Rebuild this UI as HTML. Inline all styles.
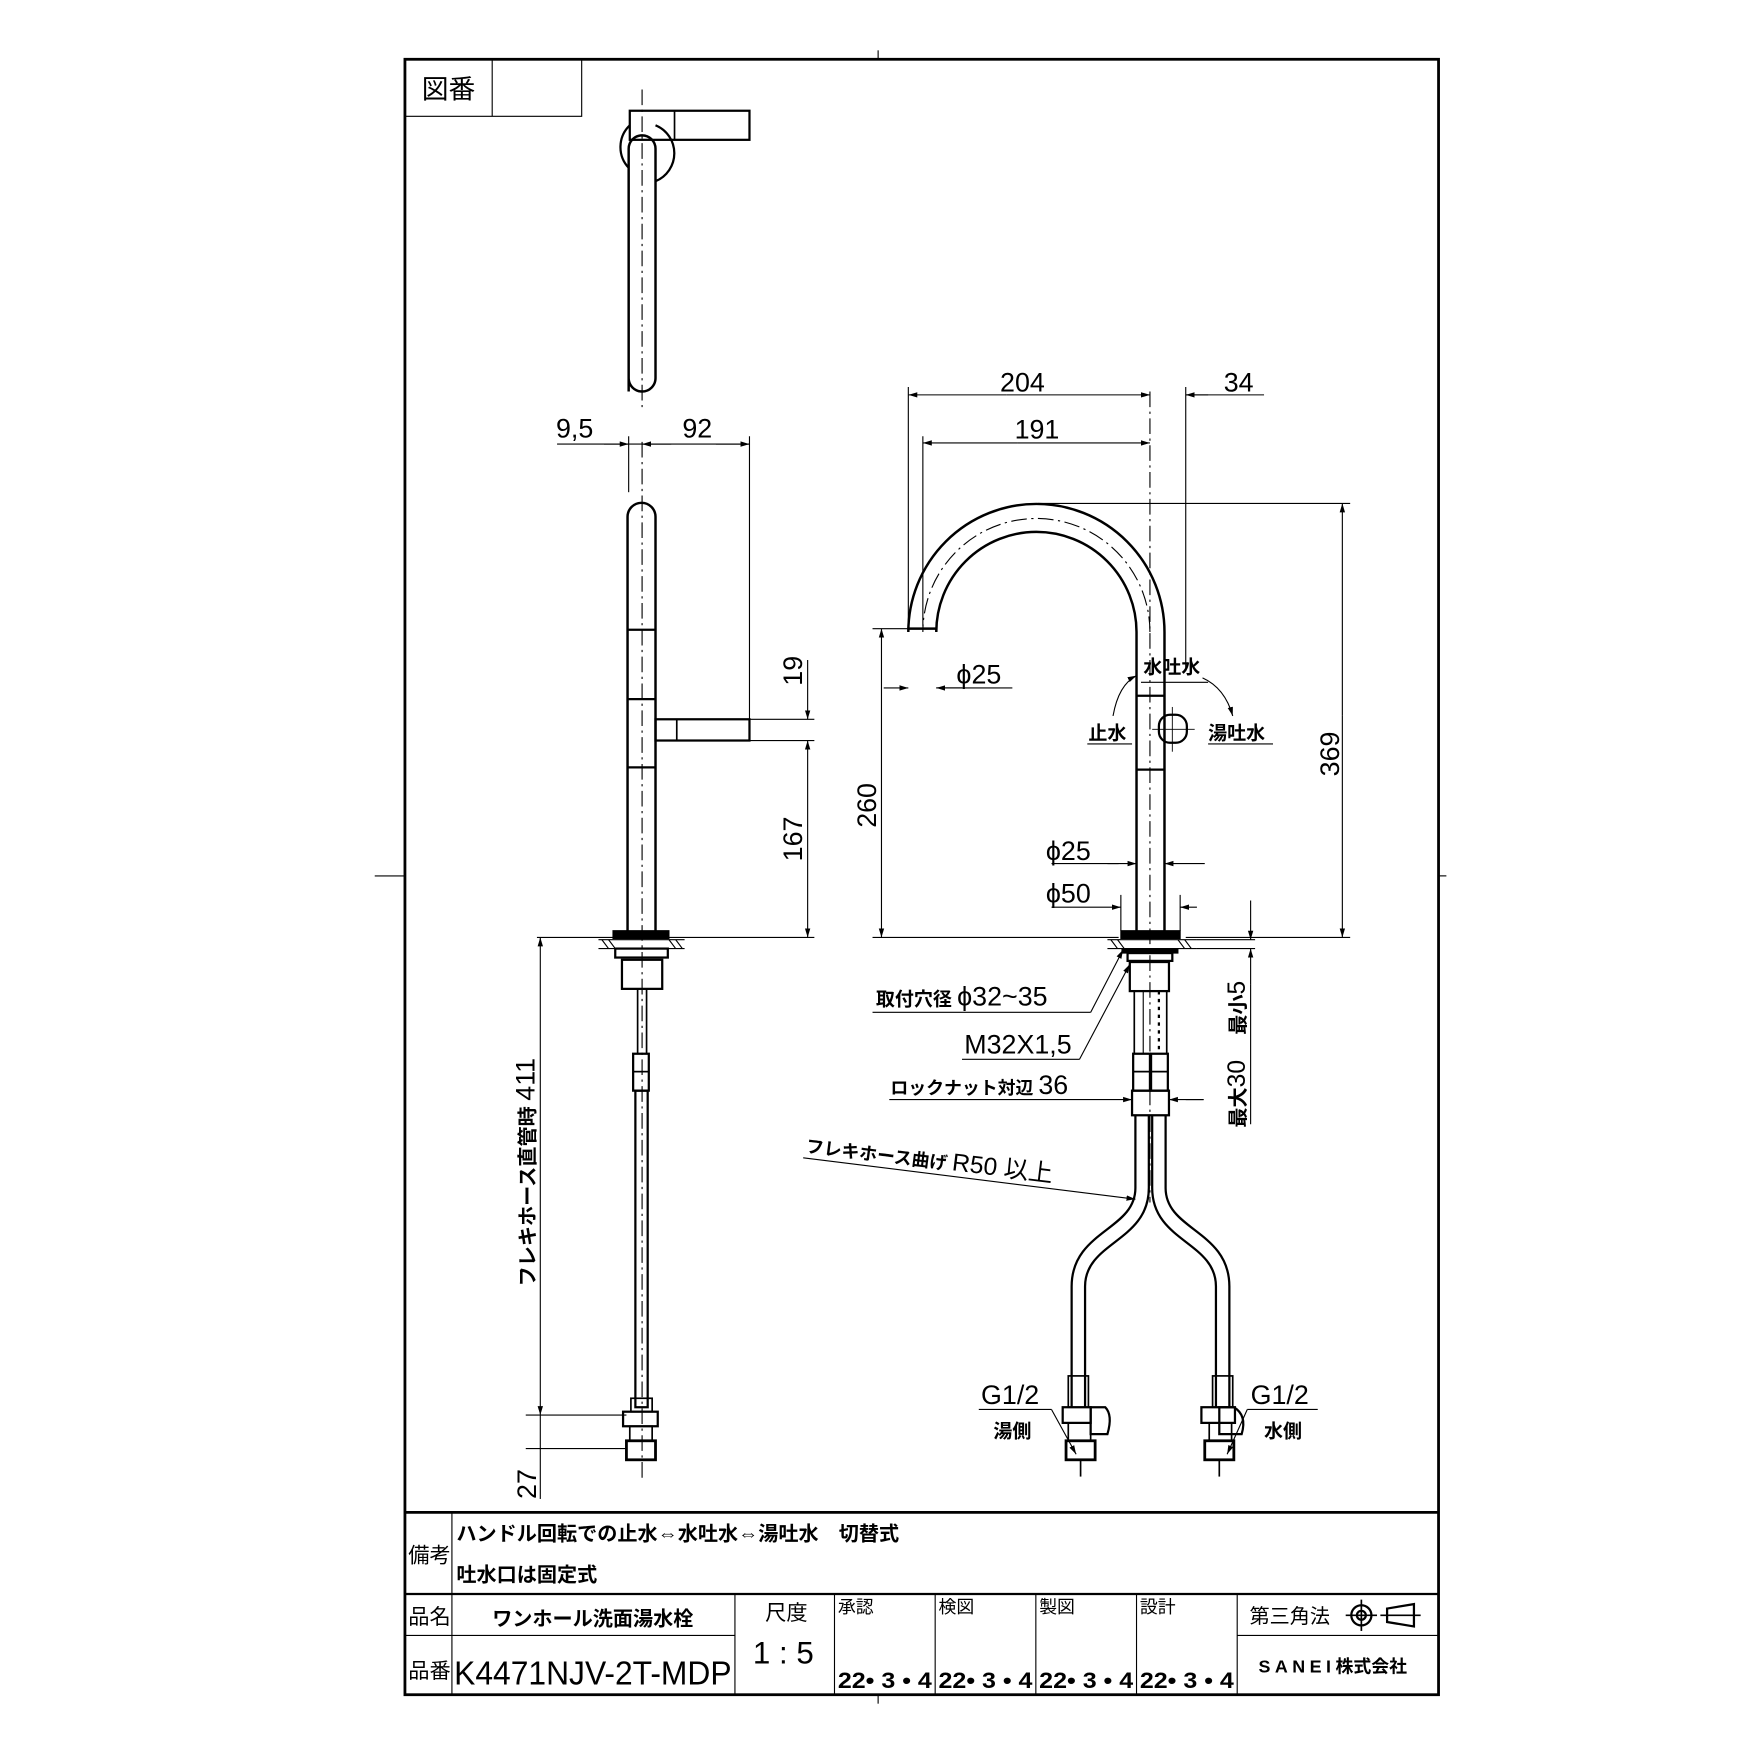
<!DOCTYPE html>
<html><head><meta charset="utf-8"><style>
html,body{margin:0;padding:0;background:#fff;}
svg{display:block;}
text{font-family:"Liberation Sans","Noto Sans CJK JP",sans-serif;fill:#000;}
.b{font-weight:bold;}
</style></head><body>
<svg width="1754" height="1754" viewBox="0 0 1568 1568" xmlns="http://www.w3.org/2000/svg">
<defs>
<marker id="a" viewBox="0 0 10 10" refX="10" refY="5" markerWidth="8" markerHeight="8" orient="auto-start-reverse"><path d="M0,2 L10,5 L0,8 z" fill="#000"/></marker>
</defs>
<g stroke="#000" fill="none">
<rect x="362" y="53" width="924" height="1462" stroke-width="2.5"/>
<line x1="785" y1="45" x2="785" y2="53" stroke-width="1"/>
<line x1="335" y1="783" x2="362" y2="783" stroke-width="1"/>
<line x1="1286" y1="783" x2="1293" y2="783" stroke-width="1"/>
<polyline points="362,104 520,104 520,53" stroke-width="1"/>
<line x1="440" y1="53" x2="440" y2="104" stroke-width="1"/>

<line x1="362" y1="1352" x2="1286" y2="1352" stroke-width="2.5"/>
<line x1="362" y1="1425" x2="1286" y2="1425" stroke-width="2"/>
<line x1="362" y1="1462" x2="657" y2="1462" stroke-width="1"/>
<line x1="1106" y1="1462" x2="1286" y2="1462" stroke-width="1"/>
<line x1="404" y1="1352" x2="404" y2="1515" stroke-width="1"/>
<line x1="657" y1="1425" x2="657" y2="1515" stroke-width="1"/>
<line x1="746" y1="1425" x2="746" y2="1515" stroke-width="1"/>
<line x1="836" y1="1425" x2="836" y2="1515" stroke-width="1"/>
<line x1="926" y1="1425" x2="926" y2="1515" stroke-width="1"/>
<line x1="1016" y1="1425" x2="1016" y2="1515" stroke-width="1"/>
<line x1="1106" y1="1425" x2="1106" y2="1515" stroke-width="1"/>
<line x1="785" y1="1515" x2="785" y2="1523" stroke-width="1"/>
<circle cx="1217" cy="1444" r="9" stroke-width="2"/><circle cx="1217" cy="1444" r="4" stroke-width="2"/>
<line x1="1203" y1="1444" x2="1231" y2="1444" stroke-width="1.5"/><line x1="1217" y1="1430" x2="1217" y2="1458" stroke-width="1.5"/>
<path d="M1240,1438 L1264,1434 L1264,1454 L1240,1450 Z" stroke-width="2"/>
<line x1="1234" y1="1444" x2="1270" y2="1444" stroke-width="1.5"/>

<rect x="563" y="99" width="107" height="26" stroke-width="2"/>
<line x1="603" y1="99" x2="603" y2="125" stroke-width="1.5"/>
<path d="M562,150 A27,27 0 0 1 563,112" stroke-width="2"/>
<path d="M586,112 A27,27 0 0 1 586,162" stroke-width="2"/>
<path d="M562,350 L562,133 A12,12 0 0 1 586,133 L586,338 A12,12 0 0 1 562,338" stroke-width="2.2"/>
<line x1="574" y1="80" x2="574" y2="365" stroke-width="1" stroke-dasharray="14,4,2,4"/>

<path d="M561,832 L561,462 A12.5,12.5 0 0 1 586,462 L586,832" stroke-width="2.2"/>
<line x1="574" y1="395" x2="574" y2="1325" stroke-width="1" stroke-dasharray="14,4,2,4"/>
<line x1="561" y1="563" x2="586" y2="563" stroke-width="2"/>
<line x1="561" y1="625" x2="586" y2="625" stroke-width="2"/>
<line x1="561" y1="686" x2="586" y2="686" stroke-width="2"/>
<rect x="586" y="643" width="84" height="19" stroke-width="2"/>
<line x1="605" y1="643" x2="605" y2="662" stroke-width="1.5"/>
<rect x="548" y="832" width="50" height="7" fill="#000" stroke-width="1"/>
<line x1="535" y1="840" x2="612" y2="840" stroke-width="1"/>
<line x1="535" y1="848" x2="612" y2="848" stroke-width="1"/>
<path d="M538,840 l6,8 M544,840 l6,8 M598,840 l6,8 M604,840 l6,8" stroke-width="1"/>
<rect x="550" y="848" width="47" height="8" stroke-width="2"/>
<rect x="556" y="858" width="36" height="26" stroke-width="2"/>
<line x1="570" y1="884" x2="570" y2="942" stroke-width="1.5"/><line x1="578" y1="884" x2="578" y2="942" stroke-width="1.5"/>
<rect x="566" y="942" width="14" height="33" stroke-width="2"/>
<line x1="566" y1="958" x2="580" y2="958" stroke-width="1.5"/>
<rect x="568" y="975" width="11" height="283" stroke-width="2"/>
<rect x="564" y="1250" width="19" height="12" stroke-width="1.5"/>
<rect x="557" y="1262" width="31" height="13" stroke-width="2"/>
<rect x="563" y="1275" width="20" height="13" stroke-width="1.5"/>
<rect x="560" y="1288" width="26" height="17" stroke-width="2.5"/>

<line x1="498" y1="397" x2="670" y2="397" stroke-width="1"/>
<line x1="540" y1="397" x2="562" y2="397" stroke-width="1" marker-end="url(#a)"/>
<line x1="600" y1="397" x2="574" y2="397" stroke-width="1" marker-end="url(#a)"/>
<line x1="640" y1="397" x2="670" y2="397" stroke-width="1" marker-end="url(#a)"/>
<line x1="562" y1="390" x2="562" y2="440" stroke-width="1"/>
<line x1="670" y1="390" x2="670" y2="643" stroke-width="1"/>
<line x1="670" y1="643" x2="728" y2="643" stroke-width="1"/>
<line x1="670" y1="662" x2="728" y2="662" stroke-width="1"/>
<line x1="480" y1="838" x2="728" y2="838" stroke-width="1"/>
<line x1="722" y1="590" x2="722" y2="643" stroke-width="1" marker-end="url(#a)"/>
<line x1="722" y1="700" x2="722" y2="662" stroke-width="1" marker-end="url(#a)"/>
<line x1="722" y1="700" x2="722" y2="838" stroke-width="1" marker-end="url(#a)"/>
<line x1="483" y1="1050" x2="483" y2="838" stroke-width="1" marker-end="url(#a)"/>
<line x1="483" y1="1050" x2="483" y2="1265" stroke-width="1" marker-end="url(#a)"/>
<line x1="483" y1="1265" x2="483" y2="1340" stroke-width="1"/>
<line x1="470" y1="1265" x2="560" y2="1265" stroke-width="1"/>
<line x1="470" y1="1295" x2="560" y2="1295" stroke-width="1"/>

<path d="M1041,832 L1041,565 A114.5,114.5 0 0 0 812,565 L812,562 L837,562 L837,565 A89.5,89.5 0 0 1 1016,565 L1016,832" stroke-width="2.2"/>
<path d="M1028,565 A101.5,101.5 0 0 0 825,565" stroke-width="1" stroke-dasharray="14,4,2,4"/>
<line x1="1028" y1="350" x2="1028" y2="1075" stroke-width="1" stroke-dasharray="14,4,2,4"/>
<line x1="1016" y1="622" x2="1041" y2="622" stroke-width="2"/>
<line x1="1016" y1="688" x2="1041" y2="688" stroke-width="2"/>
<rect x="1036" y="639" width="25" height="25" rx="10" stroke-width="2"/>
<line x1="1030" y1="652" x2="1068" y2="652" stroke-width="0.8"/><line x1="1048" y1="632" x2="1048" y2="672" stroke-width="0.8"/>
<path d="M995,640 Q1000,612 1016,604" stroke-width="1" marker-end="url(#a)"/>
<path d="M1075,606 Q1095,615 1102,640" stroke-width="1" marker-end="url(#a)"/>
<line x1="1020" y1="610" x2="1080" y2="610" stroke-width="1"/>
<line x1="972" y1="665" x2="1012" y2="665" stroke-width="1"/>
<line x1="1080" y1="665" x2="1138" y2="665" stroke-width="1"/>

<rect x="1002" y="832" width="53" height="7" fill="#000" stroke-width="1"/>
<line x1="990" y1="840" x2="1070" y2="840" stroke-width="1"/>
<line x1="990" y1="848" x2="1070" y2="848" stroke-width="1"/>
<path d="M993,840 l6,8 M999,840 l6,8 M1053,840 l6,8 M1059,840 l6,8" stroke-width="1"/>
<rect x="1003" y="848" width="50" height="4" fill="#000" stroke-width="1"/>
<rect x="1008" y="852" width="40" height="7" stroke-width="2"/>
<rect x="1010" y="860" width="35" height="26" stroke-width="2"/>
<line x1="1014" y1="886" x2="1014" y2="942" stroke-width="1.5"/><line x1="1043" y1="886" x2="1043" y2="942" stroke-width="1.5"/>
<line x1="1022" y1="886" x2="1022" y2="942" stroke-width="1"/><line x1="1036" y1="886" x2="1036" y2="942" stroke-width="2" stroke-dasharray="3,4"/>
<rect x="1013" y="942" width="15" height="33" stroke-width="2"/><rect x="1029" y="942" width="15" height="33" stroke-width="2"/>
<line x1="1013" y1="958" x2="1044" y2="958" stroke-width="1.5"/>
<rect x="1012" y="975" width="33" height="22" stroke-width="2"/>
<path d="M1015,997 L1015,1062 C1015,1100 958,1100 958,1150 L958,1258" stroke-width="2"/>
<path d="M1027,997 L1027,1062 C1027,1110 970,1110 970,1150 L970,1258" stroke-width="2"/>
<path d="M1030,997 L1030,1062 C1030,1110 1087,1110 1087,1150 L1087,1258" stroke-width="2"/>
<path d="M1042,997 L1042,1062 C1042,1100 1099,1100 1099,1150 L1099,1258" stroke-width="2"/>
<rect x="955" y="1230" width="18" height="28" stroke-width="1.5"/>
<rect x="950" y="1258" width="25" height="14" stroke-width="2"/>
<path d="M975,1258 L988,1258 Q995,1265 990,1282 L975,1282 Z" stroke-width="2"/>
<rect x="955" y="1272" width="20" height="16" stroke-width="1.5"/>
<rect x="953" y="1288" width="26" height="17" stroke-width="2.5"/>
<line x1="966" y1="1305" x2="966" y2="1320" stroke-width="1.5"/>
<rect x="1084" y="1230" width="18" height="28" stroke-width="1.5"/>
<rect x="1074" y="1258" width="30" height="14" stroke-width="2"/>
<path d="M1090,1258 L1103,1258 Q1115,1265 1110,1282 L1090,1282 Z" stroke-width="2"/>
<rect x="1081" y="1272" width="20" height="16" stroke-width="1.5"/>
<rect x="1077" y="1288" width="26" height="17" stroke-width="2.5"/>
<line x1="1090" y1="1305" x2="1090" y2="1320" stroke-width="1.5"/>

<line x1="812" y1="346" x2="812" y2="560" stroke-width="1"/>
<line x1="825" y1="390" x2="825" y2="560" stroke-width="1"/>
<line x1="1060" y1="346" x2="1060" y2="600" stroke-width="1"/>
<line x1="900" y1="353" x2="812" y2="353" stroke-width="1" marker-end="url(#a)"/>
<line x1="900" y1="353" x2="1028" y2="353" stroke-width="1" marker-end="url(#a)"/>
<line x1="1080" y1="353" x2="1060" y2="353" stroke-width="1" marker-end="url(#a)"/>
<line x1="1060" y1="353" x2="1130" y2="353" stroke-width="1"/>
<line x1="910" y1="396" x2="825" y2="396" stroke-width="1" marker-end="url(#a)"/>
<line x1="910" y1="396" x2="1028" y2="396" stroke-width="1" marker-end="url(#a)"/>
<line x1="928" y1="450" x2="1207" y2="450" stroke-width="1"/>
<line x1="1060" y1="838" x2="1207" y2="838" stroke-width="1"/>
<line x1="1200" y1="640" x2="1200" y2="450" stroke-width="1" marker-end="url(#a)"/>
<line x1="1200" y1="640" x2="1200" y2="838" stroke-width="1" marker-end="url(#a)"/>
<line x1="780" y1="562" x2="812" y2="562" stroke-width="1"/>
<line x1="780" y1="838" x2="1000" y2="838" stroke-width="1"/>
<line x1="788" y1="700" x2="788" y2="562" stroke-width="1" marker-end="url(#a)"/>
<line x1="788" y1="700" x2="788" y2="838" stroke-width="1" marker-end="url(#a)"/>
<line x1="790" y1="615" x2="812" y2="615" stroke-width="1" marker-end="url(#a)"/>
<line x1="860" y1="615" x2="837" y2="615" stroke-width="1" marker-end="url(#a)"/>
<line x1="837" y1="615" x2="905" y2="615" stroke-width="1"/>
<line x1="940" y1="772" x2="1000" y2="772" stroke-width="1"/>
<line x1="990" y1="772" x2="1016" y2="772" stroke-width="1" marker-end="url(#a)"/>
<line x1="1077" y1="772" x2="1041" y2="772" stroke-width="1" marker-end="url(#a)"/>
<line x1="940" y1="811" x2="1002" y2="811" stroke-width="1" marker-end="url(#a)"/>
<line x1="1070" y1="811" x2="1055" y2="811" stroke-width="1" marker-end="url(#a)"/>
<line x1="1002" y1="800" x2="1002" y2="832" stroke-width="1"/><line x1="1055" y1="800" x2="1055" y2="832" stroke-width="1"/>
<line x1="1070" y1="840" x2="1122" y2="840" stroke-width="1"/>
<line x1="1070" y1="848" x2="1122" y2="848" stroke-width="1"/>
<line x1="1118" y1="805" x2="1118" y2="840" stroke-width="1" marker-end="url(#a)"/>
<line x1="1118" y1="880" x2="1118" y2="848" stroke-width="1" marker-end="url(#a)"/>
<line x1="1118" y1="880" x2="1118" y2="1005" stroke-width="1"/>
<line x1="1060" y1="983" x2="1076" y2="983" stroke-width="1"/>
<line x1="780" y1="905" x2="975" y2="905" stroke-width="1"/>
<line x1="975" y1="905" x2="1004" y2="849" stroke-width="1" marker-end="url(#a)"/>
<line x1="860" y1="947" x2="965" y2="947" stroke-width="1"/>
<line x1="965" y1="947" x2="1010" y2="862" stroke-width="1" marker-end="url(#a)"/>
<line x1="795" y1="983" x2="1012" y2="983" stroke-width="1" marker-end="url(#a)"/>
<line x1="1076" y1="983" x2="1045" y2="983" stroke-width="1" marker-end="url(#a)"/>
<line x1="718" y1="1035" x2="1015" y2="1072" stroke-width="1" marker-end="url(#a)"/>
<line x1="875" y1="1260" x2="940" y2="1260" stroke-width="1"/>
<line x1="940" y1="1260" x2="962" y2="1300" stroke-width="1" marker-end="url(#a)"/>
<line x1="1115" y1="1260" x2="1178" y2="1260" stroke-width="1"/>
<line x1="1115" y1="1260" x2="1097" y2="1300" stroke-width="1" marker-end="url(#a)"/>
</g>

<text x="377" y="88" font-size="24">図番</text>
<text x="497" y="391" font-size="24">9,5</text>
<text x="610" y="391" font-size="24">92</text>
<text transform="translate(717,613) rotate(-90)" font-size="24">19</text>
<text transform="translate(717,770) rotate(-90)" font-size="24">167</text>
<text transform="translate(478,1150) rotate(-90)" font-size="18" class="b">フレキホース直管時 <tspan font-size="24" font-weight="normal">411</tspan></text>
<text transform="translate(479,1340) rotate(-90)" font-size="24">27</text>
<text x="894" y="350" font-size="24">204</text>
<text x="1094" y="350" font-size="24">34</text>
<text x="907" y="392" font-size="24">191</text>
<text transform="translate(1197,694) rotate(-90)" font-size="24">369</text>
<text transform="translate(783,740) rotate(-90)" font-size="24">260</text>
<text x="855" y="611" font-size="24">ϕ25</text>
<text x="1022" y="602" font-size="17" class="b">水吐水</text>
<text x="973" y="661" font-size="17" class="b">止水</text>
<text x="1080" y="661" font-size="17" class="b">湯吐水</text>
<text x="935" y="769" font-size="24">ϕ25</text>
<text x="935" y="807" font-size="24">ϕ50</text>
<text x="783" y="899" font-size="17" class="b">取付穴径 <tspan font-size="24" font-weight="normal">ϕ32~35</tspan></text>
<text x="862" y="942" font-size="24">M32X1,5</text>
<text x="796" y="978" font-size="16" class="b">ロックナット対辺 <tspan font-size="24" font-weight="normal">36</tspan></text>
<text transform="translate(1113,925) rotate(-90)" font-size="22"><tspan class="b" font-size="18">最小</tspan>5</text>
<text transform="translate(1113,1008) rotate(-90)" font-size="22"><tspan class="b" font-size="18">最大</tspan>30</text>
<text transform="translate(720,1030) rotate(7)" font-size="16" class="b">フレキホース曲げ <tspan font-size="22" font-weight="normal">R50 以上</tspan></text>
<text x="877" y="1255" font-size="24">G1/2</text>
<text x="888" y="1285" font-size="17" class="b">湯側</text>
<text x="1118" y="1255" font-size="24">G1/2</text>
<text x="1130" y="1285" font-size="17" class="b">水側</text>

<text x="365" y="1397" font-size="19">備考</text>
<text x="408" y="1377" font-size="18" class="b">ハンドル回転での止水⇔水吐水⇔湯吐水　切替式</text>
<text x="408" y="1414" font-size="18" class="b">吐水口は固定式</text>
<text x="365" y="1452" font-size="19">品名</text>
<text x="440" y="1453" font-size="18" class="b">ワンホール洗面湯水栓</text>
<text x="365" y="1500" font-size="19">品番</text>
<text x="406" y="1506" font-size="30" textLength="248" lengthAdjust="spacingAndGlyphs">K4471NJV-2T-MDP</text>
<text x="684" y="1448" font-size="19">尺度</text>
<text x="673" y="1487" font-size="28">1 : 5</text>
<text x="749" y="1442" font-size="16">承認</text>
<text x="839" y="1442" font-size="16">検図</text>
<text x="929" y="1442" font-size="16">製図</text>
<text x="1019" y="1442" font-size="16">設計</text>
<text x="749" y="1509" font-size="20" class="b" textLength="84" lengthAdjust="spacingAndGlyphs">22• 3 • 4</text>
<text x="839" y="1509" font-size="20" class="b" textLength="84" lengthAdjust="spacingAndGlyphs">22• 3 • 4</text>
<text x="929" y="1509" font-size="20" class="b" textLength="84" lengthAdjust="spacingAndGlyphs">22• 3 • 4</text>
<text x="1019" y="1509" font-size="20" class="b" textLength="84" lengthAdjust="spacingAndGlyphs">22• 3 • 4</text>
<text x="1117" y="1451" font-size="18">第三角法</text>
<text x="1125" y="1495" font-size="16" class="b" letter-spacing="4">SANEI<tspan letter-spacing="0">株式会社</tspan></text>
</svg>
</body></html>
